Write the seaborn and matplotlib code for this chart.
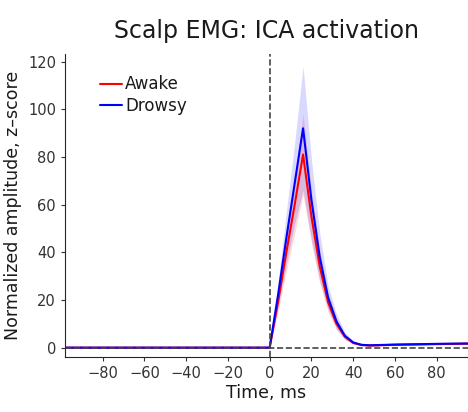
import numpy as np
import matplotlib
matplotlib.use("Agg")
import matplotlib.pyplot as plt
import seaborn as sns
import pandas as pd

time_ms = [-98, 0, 4, 8, 12, 16, 20, 24, 28, 32, 36, 40, 44, 48, 60, 80, 98]
drowsy = [0, 0, 22, 46, 69, 92, 62, 38, 21, 11, 5, 2.2, 1.2, 1.0, 1.3, 1.6, 1.8]
awake = [0, 0, 19, 40, 60, 81, 55, 34, 19, 10, 4.6, 2.0, 1.1, 0.9, 1.2, 1.5, 1.7]
drowsy_err = [0, 0, 5, 11, 17, 26, 17, 10, 5, 3, 1.5, 0.6, 0.3, 0.3, 0.3, 0.3, 0.3]
awake_err = [0, 0, 4, 8, 12, 17, 11, 7, 4, 2.5, 1.2, 0.5, 0.3, 0.3, 0.3, 0.3, 0.3]

sns.set_style("white")
plt.rcParams['font.family'] = ['DejaVu Sans']
plt.rcParams['text.color'] = '#1a1a1a'
plt.rcParams['axes.labelcolor'] = '#1a1a1a'
plt.rcParams['xtick.color'] = '#333333'
plt.rcParams['ytick.color'] = '#333333'

df = pd.DataFrame({"t": time_ms * 2,
                   "amp": awake + drowsy,
                   "state": ["Awake"] * len(time_ms) + ["Drowsy"] * len(time_ms)})

fig = plt.figure(figsize=(4.68, 4.12), dpi=100)
ax = fig.add_axes([0.139, 0.133, 0.861, 0.735])

t = np.array(time_ms)
ax.fill_between(t, np.array(awake) - awake_err, np.array(awake) + awake_err,
                color="red", alpha=0.15, lw=0)
ax.fill_between(t, np.array(drowsy) - drowsy_err, np.array(drowsy) + drowsy_err,
                color="blue", alpha=0.15, lw=0)
sns.lineplot(data=df, x="t", y="amp", hue="state", palette={"Awake": "red", "Drowsy": "blue"},
             ax=ax, lw=1.5)

ax.axvline(0, color="#444444", ls="--", lw=1.2)
ax.axhline(0, color="#444444", ls="--", lw=1.2)
ax.set_xlim(-98, 95)
ax.set_ylim(-4, 123)
ax.set_xticks(range(-80, 81, 20))
ax.set_yticks(range(0, 121, 20))
ax.tick_params(labelsize=10.5, length=3, direction="out", left=True, bottom=True)
sns.despine(ax=ax)
ax.set_xlabel("Time, ms", fontsize=12.5, labelpad=2)
ax.set_ylabel("Normalized amplitude, z\u2013score", fontsize=12.5)
ax.set_title("Scalp EMG: ICA activation", fontsize=17, pad=12)
ax.legend(title=None, frameon=False, fontsize=12, loc="upper left",
          bbox_to_anchor=(0.05, 0.98), handlelength=1.3, handletextpad=0.2, labelspacing=0.2)

fig.savefig("out.png", dpi=100)
